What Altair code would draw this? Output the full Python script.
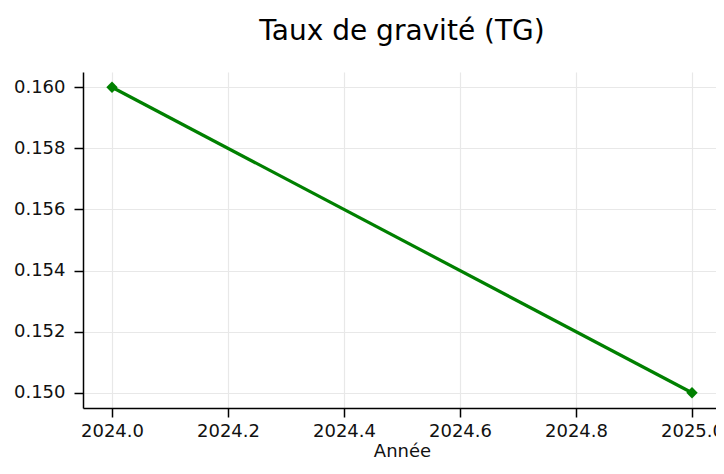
import altair as alt
import pandas as pd

years = [2024, 2025]
tg = [0.160, 0.150]
x_ticks = [2024.0, 2024.2, 2024.4, 2024.6, 2024.8, 2025.0]
y_ticks = [0.150, 0.152, 0.154, 0.156, 0.158, 0.160]

df = pd.DataFrame({"Année": years, "TG": tg})

FONT = "DejaVu Sans"

x = alt.X("Année:Q",
          scale=alt.Scale(domain=[2023.95, 2025.05], nice=False, zero=False),
          axis=alt.Axis(values=x_ticks, format=".1f", title="Année",
                        labelFontSize=18, titleFontSize=18, labelPadding=5,
                        titlePadding=2, titleFontWeight="normal",
                        tickSize=9, labelFlush=False))
y = alt.Y("TG:Q",
          scale=alt.Scale(domain=[0.1495, 0.1605], nice=False, zero=False),
          axis=alt.Axis(values=y_ticks, format=".3f", title=None,
                        labelFontSize=18, labelPadding=9, tickSize=9))

base = alt.Chart(df).encode(x=x, y=y)
line = base.mark_line(color="#008000", strokeWidth=3.2)
pts = base.mark_point(shape="diamond", filled=True, size=130, color="#008000", opacity=1)

chart = (line + pts).properties(
    width=638, height=336,
    autosize=alt.AutoSizeParams(type="none"),
    padding={"left": 75, "top": 64, "right": -5, "bottom": 58},
    title=alt.TitleParams("Taux de gravité (TG)", fontSize=28, font=FONT,
                          fontWeight="normal", color="black", anchor="middle",
                          baseline="alphabetic", offset=4),
).configure_view(stroke=None).configure_axis(
    domainColor="black", domainWidth=1.5, tickColor="black", tickWidth=1.5,
    labelColor="#111111", titleColor="#111111", labelFont=FONT, titleFont=FONT,
    gridColor="#e8e8e8", gridWidth=1.2,
).configure_axisX(grid=True).configure_axisY(grid=True)

chart.save("out.html", embed_options={"renderer": "svg", "actions": False})
